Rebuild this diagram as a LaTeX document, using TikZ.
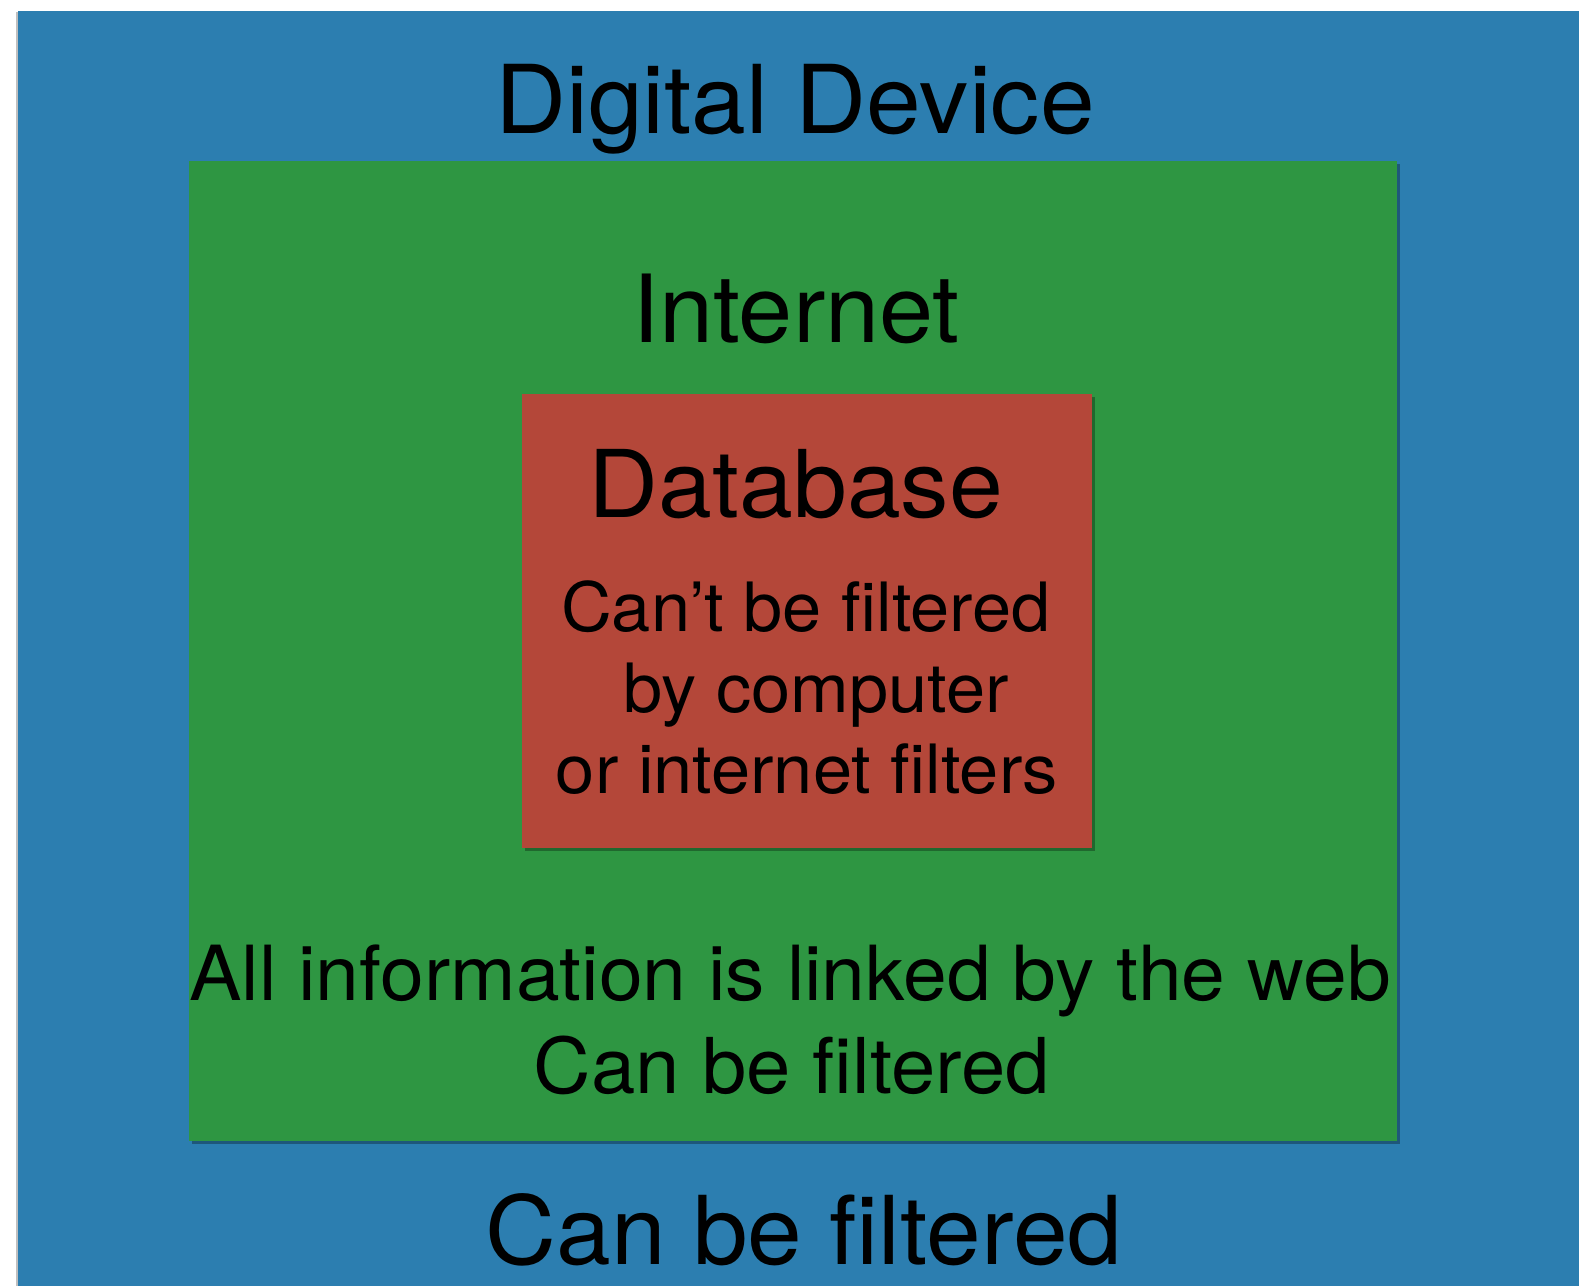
\documentclass[tikz,border=0pt]{standalone}
\usepackage{fontspec}
\setmainfont{TeX Gyre Heros}[FakeStretch=1.035]
\usetikzlibrary{shadows}

\definecolor{deviceblue}{RGB}{44,126,176}
\definecolor{netgreen}{RGB}{46,150,66}
\definecolor{dbred}{RGB}{180,71,57}

\tikzset{
    boxshadow/.style={drop shadow={shadow xshift=1.5pt, shadow yshift=-1.5pt, opacity=0.3, fill=black}},
    word/.style={anchor=base, inner sep=0pt, text=black}
}

\begin{document}
\begin{tikzpicture}[x=0.5pt, y=-0.5pt]
            \fill[white] (0, 0) rectangle (1579, 1285);
            \useasboundingbox (0, 0) rectangle (1579, 1285);
            \fill[black!25] (16, 12) rectangle (18, 1300);
            \fill[deviceblue] (18, 11) rectangle (1600, 1300);
            \fill[netgreen, boxshadow] (189, 161) rectangle (1397, 1141);
            \fill[dbred, boxshadow] (522, 394) rectangle (1092, 848);
            \begin{scope}[word]
                \node[font=\fontsize{47.5}{57}\selectfont] (device) at (795, 133) {Digital Device};
                \node[font=\fontsize{47}{57}\selectfont] (internet) at (796, 342) {Internet};
                \node[font=\fontsize{46.75}{56}\selectfont] (database) at (796, 517) {Database};
                \node[font=\fontsize{34}{40.5}\selectfont] (dbline1) at (806, 631) {Can’t be filtered};
                \node[font=\fontsize{34}{40.5}\selectfont] (dbline2) at (816, 712) {by computer};
                \node[font=\fontsize{34}{40.5}\selectfont] (dbline3) at (807, 793) {or internet filters};
                \node[font=\fontsize{38}{46.5}\selectfont] (netline1) at (790, 1000) {All information is linked by the web};
                \node[font=\fontsize{38.5}{46.5}\selectfont] (netline2) at (792, 1093) {Can be filtered};
                \node[font=\fontsize{47.5}{57}\selectfont] (deviceline) at (804, 1264) {Can be filtered};
            \end{scope}
        \end{tikzpicture}
\end{document}
